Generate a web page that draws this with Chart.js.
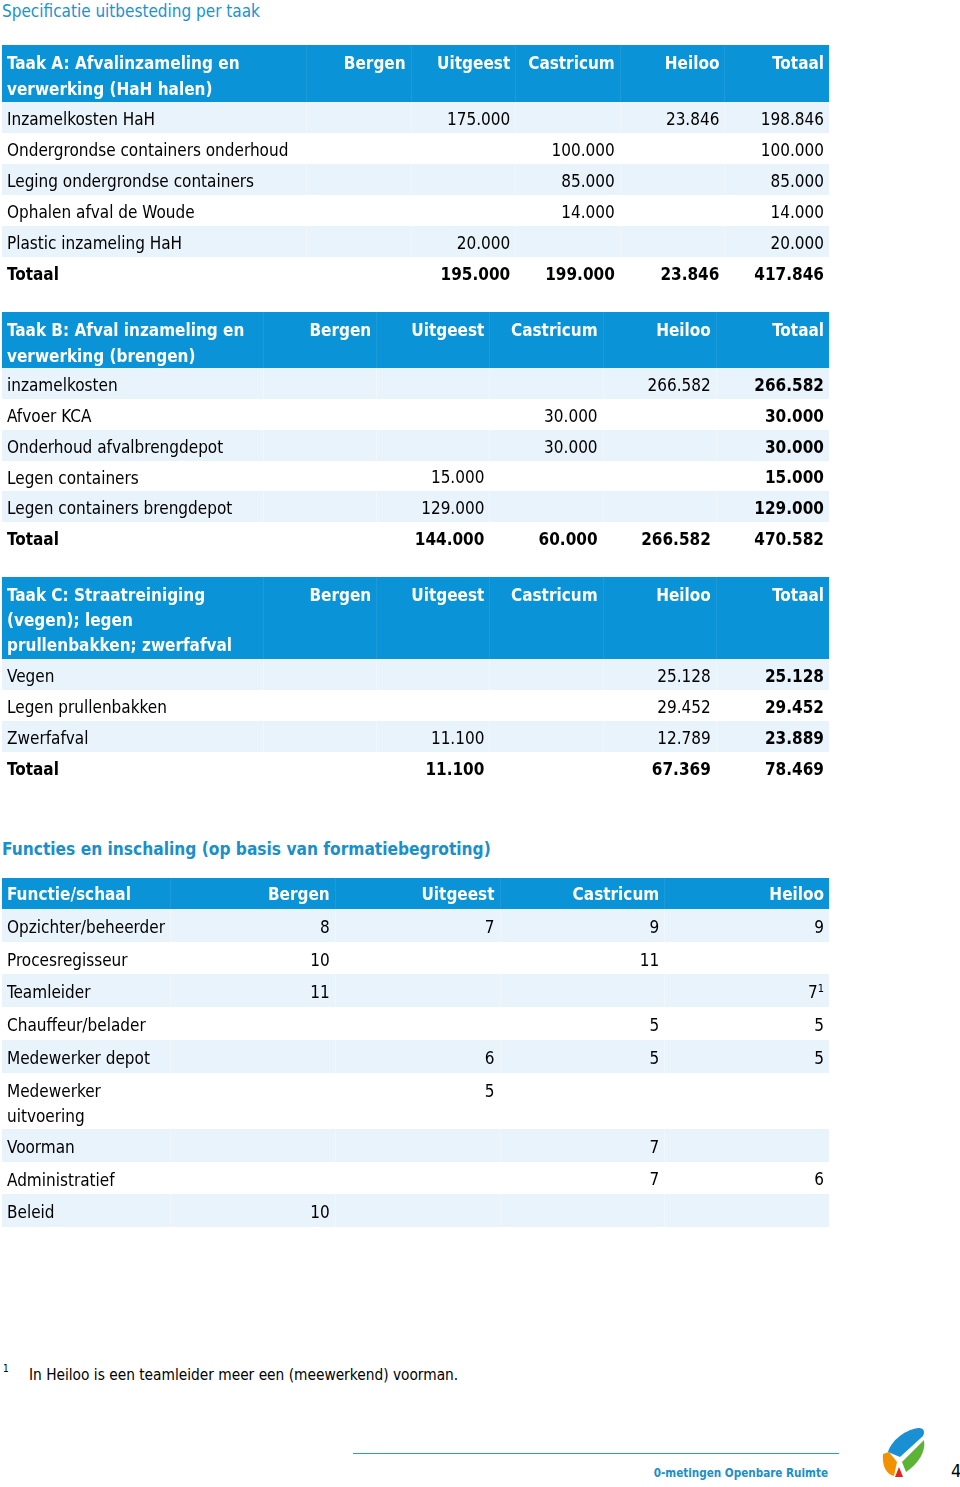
<!DOCTYPE html>
<html lang="nl">
<head>
<meta charset="utf-8">
<script src="https://cdn.jsdelivr.net/npm/chart.js@4.4.1/dist/chart.umd.min.js"></script>
<style>
html,body{margin:0;padding:0;background:#fff;}
body{width:960px;height:1487px;position:relative;overflow:hidden;font-family:"DejaVu Sans Condensed","DejaVu Sans",sans-serif;color:#000;}
.abs{position:absolute;white-space:nowrap;}
#title{left:2px;top:0px;font-size:17px;line-height:22px;color:#1b93cf;}
#heading2{left:2px;top:837px;font-size:17.2px;line-height:24px;font-weight:bold;color:#1a8fca;}
canvas{position:absolute;left:0;}
#noteNum{left:3px;top:1363px;font-size:10px;line-height:12px;}
#noteText{left:29px;top:1365px;font-size:15.3px;line-height:20px;}
#footLine{left:353px;top:1453px;width:486px;height:1px;background:#2a9ad6;}
#footText{right:132px;top:1465px;font-size:11.6px;line-height:16px;font-weight:bold;color:#1a8fca;}
#pageNum{left:951px;top:1460px;font-size:18px;line-height:22px;}
#logo{left:880px;top:1426px;width:48px;height:56px;}
</style>
</head>
<body>
<div id="title" class="abs">Specificatie uitbesteding per taak</div>
<canvas id="tA" width="832" height="243" style="top:45px"></canvas>
<canvas id="tB" width="832" height="241" style="top:312px"></canvas>
<canvas id="tC" width="832" height="206" style="top:577px"></canvas>
<div id="heading2" class="abs">Functies en inschaling (op basis van formatiebegroting)</div>
<canvas id="tD" width="832" height="349" style="top:878px"></canvas>
<div id="noteNum" class="abs">1</div>
<div id="noteText" class="abs">In Heiloo is een teamleider meer een (meewerkend) voorman.</div>
<div id="footLine" class="abs"></div>
<div id="footText" class="abs">0-metingen Openbare Ruimte</div>
<svg id="logo" class="abs" viewBox="0 0 48 56">
  <path d="M8,26 C12,13 27,3 39,2 C44,2 45,6 43,10 L20,31 Z" fill="#1a8fd3"/>
  <path d="M22,36 L44,14 C46,26 38,38 26,46 Z" fill="#5cb336"/>
  <path d="M3,28 L9,26 L17,36 L14,50 C6,48 2,40 3,28 Z" fill="#f39200"/>
  <path d="M15,51 L19,41 L23,51 Z" fill="#e3241b"/>
</svg>
<div id="pageNum" class="abs">4</div>
<script>
// ---------- DATA ----------
const taakA_titel = ['Taak A: Afvalinzameling en', 'verwerking (HaH halen)'];
const taakA_kolommen = ['Bergen', 'Uitgeest', 'Castricum', 'Heiloo', 'Totaal'];
const taakA_posten = ['Inzamelkosten HaH', 'Ondergrondse containers onderhoud', 'Leging ondergrondse containers', 'Ophalen afval de Woude', 'Plastic inzameling HaH', 'Totaal'];
const taakA_Bergen    = [null, null, null, null, null, null];
const taakA_Uitgeest  = [175000, null, null, null, 20000, 195000];
const taakA_Castricum = [null, 100000, 85000, 14000, null, 199000];
const taakA_Heiloo    = [23846, null, null, null, null, 23846];
const taakA_Totaal    = [198846, 100000, 85000, 14000, 20000, 417846];

const taakB_titel = ['Taak B: Afval inzameling en', 'verwerking (brengen)'];
const taakB_kolommen = ['Bergen', 'Uitgeest', 'Castricum', 'Heiloo', 'Totaal'];
const taakB_posten = ['inzamelkosten', 'Afvoer KCA', 'Onderhoud afvalbrengdepot', 'Legen containers', 'Legen containers brengdepot', 'Totaal'];
const taakB_Bergen    = [null, null, null, null, null, null];
const taakB_Uitgeest  = [null, null, null, 15000, 129000, 144000];
const taakB_Castricum = [null, 30000, 30000, null, null, 60000];
const taakB_Heiloo    = [266582, null, null, null, null, 266582];
const taakB_Totaal    = [266582, 30000, 30000, 15000, 129000, 470582];

const taakC_titel = ['Taak C: Straatreiniging', '(vegen); legen', 'prullenbakken; zwerfafval'];
const taakC_kolommen = ['Bergen', 'Uitgeest', 'Castricum', 'Heiloo', 'Totaal'];
const taakC_posten = ['Vegen', 'Legen prullenbakken', 'Zwerfafval', 'Totaal'];
const taakC_Bergen    = [null, null, null, null];
const taakC_Uitgeest  = [null, null, 11100, 11100];
const taakC_Castricum = [null, null, null, null];
const taakC_Heiloo    = [25128, 29452, 12789, 67369];
const taakC_Totaal    = [25128, 29452, 23889, 78469];

const functies_titel = ['Functie/schaal'];
const functies_kolommen = ['Bergen', 'Uitgeest', 'Castricum', 'Heiloo'];
const functies = ['Opzichter/beheerder', 'Procesregisseur', 'Teamleider', 'Chauffeur/belader', 'Medewerker depot', 'Medewerker\nuitvoering', 'Voorman', 'Administratief', 'Beleid'];
const schaal_Bergen    = [8, 10, 11, null, null, null, null, null, 10];
const schaal_Uitgeest  = [7, null, null, null, 6, 5, null, null, null];
const schaal_Castricum = [9, 11, null, 5, 5, null, 7, 7, null];
const schaal_Heiloo    = [9, null, 7, 5, 5, null, null, 6, null];
const voetnoot_Heiloo  = [null, null, '1', null, null, null, null, null, null];

// ---------- STYLE ----------
const FONT = '"DejaVu Sans Condensed", "DejaVu Sans", sans-serif';
const HEADER_BLUE = '#0a93d6';
const SHADE = '#e8f3fb';
const TEXT_SHIFT = 3;

function fmtThousands(v) {
  return String(v).replace(/\B(?=(\d{3})+(?!\d))/g, '.');
}

function makeTablePlugin(spec, starts, units) {
  return {
    id: 'tableCells',
    beforeDatasetsDraw(chart) {
      const { ctx, chartArea: ca, scales: { x, y } } = chart;
      const L = 2, R = ca.right;
      const n = spec.columns.length;
      const colW = (ca.right - ca.left) / n;
      ctx.save();
      ctx.fillStyle = HEADER_BLUE;
      ctx.fillRect(L, 0, R - L, ca.top);
      ctx.strokeStyle = 'rgba(255,255,255,0.08)';
      ctx.lineWidth = 1;
      for (let i = 0; i < n; i++) {
        const bx = Math.round(x.getPixelForValue(i) - colW / 2) + 0.5;
        ctx.beginPath(); ctx.moveTo(bx, 0); ctx.lineTo(bx, ca.top); ctx.stroke();
      }
      ctx.fillStyle = '#fff';
      ctx.font = 'bold ' + spec.fontSize + 'px ' + FONT;
      ctx.textBaseline = 'middle';
      ctx.textAlign = 'left';
      spec.title.forEach((t, k) => ctx.fillText(t, L + 5, spec.firstLine + TEXT_SHIFT + k * spec.lineH));
      ctx.textAlign = 'right';
      spec.columns.forEach((c, i) => {
        ctx.fillText(c, x.getPixelForValue(i) + colW / 2 - 5, spec.firstLine + TEXT_SHIFT);
      });
      const unitPx = y.getPixelForValue(1) - y.getPixelForValue(0);
      spec.rows.forEach((r, i) => {
        const top = Math.round(y.getPixelForValue(starts[i]));
        const bot = Math.round(y.getPixelForValue(starts[i] + units[i]));
        if (i % 2 === 0) {
          ctx.fillStyle = SHADE;
          ctx.fillRect(L, top, R - L, bot - top);
          ctx.strokeStyle = 'rgba(255,255,255,0.3)';
          for (let c = 0; c < n; c++) {
            const bx = Math.round(x.getPixelForValue(c) - colW / 2) + 0.5;
            ctx.beginPath(); ctx.moveTo(bx, top); ctx.lineTo(bx, bot); ctx.stroke();
          }
        }
        const bold = r === 'Totaal';
        ctx.font = (bold ? 'bold ' : '') + spec.fontSize + 'px ' + FONT;
        ctx.fillStyle = '#000';
        ctx.textAlign = 'left';
        r.split('\n').forEach((ln, k) => ctx.fillText(ln, L + 5, top + unitPx / 2 + TEXT_SHIFT + k * spec.lineH));
      });
      ctx.restore();
    },
    afterDatasetsDraw(chart) {
      const { ctx, chartArea: ca } = chart;
      const n = spec.columns.length;
      const colW = (ca.right - ca.left) / n;
      ctx.save();
      ctx.textBaseline = 'middle';
      ctx.fillStyle = '#000';
      chart.data.datasets.forEach((ds, di) => {
        const meta = chart.getDatasetMeta(di);
        meta.data.forEach((el, j) => {
          const pt = ds.data[j];
          const bold = spec.rows[pt.row] === 'Totaal' || (spec.boldColumns || []).includes(ds.label);
          const right = el.x + colW / 2 - 5;
          const yy = el.y + TEXT_SHIFT;
          const txt = spec.format(pt.v);
          ctx.textAlign = 'right';
          if (pt.note) {
            ctx.font = '11px ' + FONT;
            ctx.fillText(pt.note, right, yy - 5);
            const w = ctx.measureText(pt.note).width;
            ctx.font = (bold ? 'bold ' : '') + spec.fontSize + 'px ' + FONT;
            ctx.fillText(txt, right - w, yy);
          } else {
            ctx.font = (bold ? 'bold ' : '') + spec.fontSize + 'px ' + FONT;
            ctx.fillText(txt, right, yy);
          }
        });
      });
      ctx.restore();
    }
  };
}

function buildTable(id, spec) {
  const units = spec.rows.map(r => 1 + (r.split('\n').length - 1) * spec.lineExtra);
  const starts = [];
  let acc = 0;
  units.forEach(u => { starts.push(acc); acc += u; });
  const datasets = spec.columns.map((col, c) => {
    const pts = [];
    spec.series[c].forEach((v, i) => {
      if (v !== null && v !== undefined) {
        pts.push({ x: col, y: starts[i] + 0.5, v: v, row: i, note: spec.notes && spec.notes[c] ? spec.notes[c][i] : null });
      }
    });
    return { label: col, data: pts, pointRadius: 0, pointHoverRadius: 0, showLine: false };
  });
  new Chart(document.getElementById(id), {
    type: 'scatter',
    data: { labels: spec.columns, datasets: datasets },
    options: {
      responsive: false,
      animation: false,
      events: [],
      layout: { padding: { left: spec.labelWidth, right: 3, top: spec.headerHeight, bottom: 0 } },
      scales: {
        x: { type: 'category', labels: spec.columns, offset: true, display: false },
        y: { type: 'linear', min: 0, max: acc, reverse: true, display: false }
      },
      plugins: { legend: { display: false }, tooltip: { enabled: false } }
    },
    plugins: [makeTablePlugin(spec, starts, units)]
  });
}

buildTable('tA', {
  title: taakA_titel, columns: taakA_kolommen, rows: taakA_posten,
  series: [taakA_Bergen, taakA_Uitgeest, taakA_Castricum, taakA_Heiloo, taakA_Totaal],
  boldColumns: [], format: fmtThousands,
  labelWidth: 306, headerHeight: 57, firstLine: 17, lineH: 25.5, fontSize: 17, lineExtra: 0
});
buildTable('tB', {
  title: taakB_titel, columns: taakB_kolommen, rows: taakB_posten,
  series: [taakB_Bergen, taakB_Uitgeest, taakB_Castricum, taakB_Heiloo, taakB_Totaal],
  boldColumns: ['Totaal'], format: fmtThousands,
  labelWidth: 263, headerHeight: 56, firstLine: 17, lineH: 25.5, fontSize: 17, lineExtra: 0
});
buildTable('tC', {
  title: taakC_titel, columns: taakC_kolommen, rows: taakC_posten,
  series: [taakC_Bergen, taakC_Uitgeest, taakC_Castricum, taakC_Heiloo, taakC_Totaal],
  boldColumns: ['Totaal'], format: fmtThousands,
  labelWidth: 263, headerHeight: 82, firstLine: 17, lineH: 25, fontSize: 17, lineExtra: 0
});
buildTable('tD', {
  title: functies_titel, columns: functies_kolommen, rows: functies,
  series: [schaal_Bergen, schaal_Uitgeest, schaal_Castricum, schaal_Heiloo],
  notes: [null, null, null, voetnoot_Heiloo],
  boldColumns: [], format: v => String(v),
  labelWidth: 170, headerHeight: 31, firstLine: 15, lineH: 25, fontSize: 17, lineExtra: 0.71
});
</script>
</body>
</html>
